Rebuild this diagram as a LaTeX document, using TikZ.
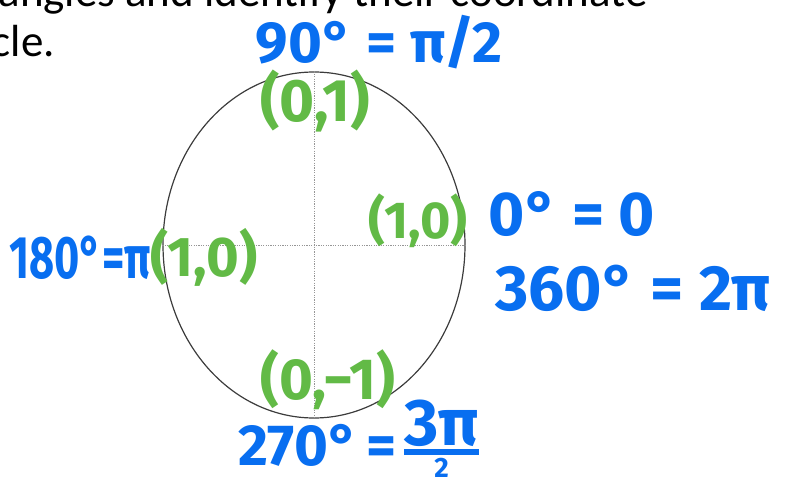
\documentclass[tikz,border=0pt]{standalone}
\usepackage{fontspec}
\setmainfont{Carlito}
\newfontfamily\handfont{Fira Sans}
\usepackage{graphicx}
\usetikzlibrary{shapes.geometric}
\definecolor{InkBlue}{RGB}{8,110,240}
\definecolor{InkGreen}{RGB}{98,186,70}
\definecolor{RingGray}{RGB}{60,60,60}
\definecolor{AxisGray}{RGB}{150,150,150}
% stacked fraction with a thick bar, as written by hand
\newcommand{\inkfrac}[2]{\raisebox{-12pt}{\vbox{\halign{\hfil##\hfil\cr#1\cr
    \noalign{\kern2pt\hrule height 6pt\kern3pt}#2\cr}}}}

\begin{document}
\begin{tikzpicture}[
    x=1pt, y=-1pt,
    ring/.style={ellipse, draw=RingGray, line width=1.2pt, inner sep=0pt,
                 minimum width=302pt, minimum height=346pt},
    axis/.style={draw=AxisGray, line width=0.9pt, dash pattern=on 1.2pt off 1.2pt},
    prose/.style={inner sep=0pt, text=black, font=\fontsize{45}{54}\selectfont},
    inkblue/.style={inner sep=0pt, text=InkBlue, font=\handfont\bfseries\fontsize{#1}{#1}\selectfont},
    inkgreen/.style={inner sep=0pt, text=InkGreen, font=\handfont\bfseries\fontsize{#1}{#1}\selectfont}
]
\useasboundingbox (0,0) rectangle (790,484);
\clip (0,0) rectangle (790,484);
% printed text, cut at the edges
\node[prose, anchor=base east] (line1) at (648,7) {angles and identify their coordinate};
\node[prose, anchor=base east] (line2) at (55,57) {cle.};
% unit circle and axes
\node[ring] (circ) at (314,245) {};
\draw[axis] (circ.north) -- (circ.south);
\draw[axis] (circ.west) -- (circ.east);
% angles
\node[inkblue=58, anchor=base] (a90) at (379,63) {90° = π/2};
\node[inkblue=62, anchor=base] (a0) at (572,235) {0° = 0};
\node[inkblue=64, anchor=base] (a360) at (633,310) {360° = 2π};
\node[inkblue=60, anchor=base] (a180) at (80,278) {\scalebox{0.72}[1]{180°=π}};
\node[inkblue=58, anchor=base west] (a270) at (238,465)
    {270°\kern8pt=\kern8pt\inkfrac{\fontsize{66}{66}\selectfont 3π}{\fontsize{28}{28}\selectfont 2}};
% points
\node[inkgreen=60] (p90) at (315,101) {(0,1)};
\node[inkgreen=52] (p0) at (418,221) {(1,0)};
\node[inkgreen=56] (p180) at (204,257) {(1,0)};
\node[inkgreen=58] (p270) at (328,380) {(0,−1)};
\end{tikzpicture}
\end{document}
